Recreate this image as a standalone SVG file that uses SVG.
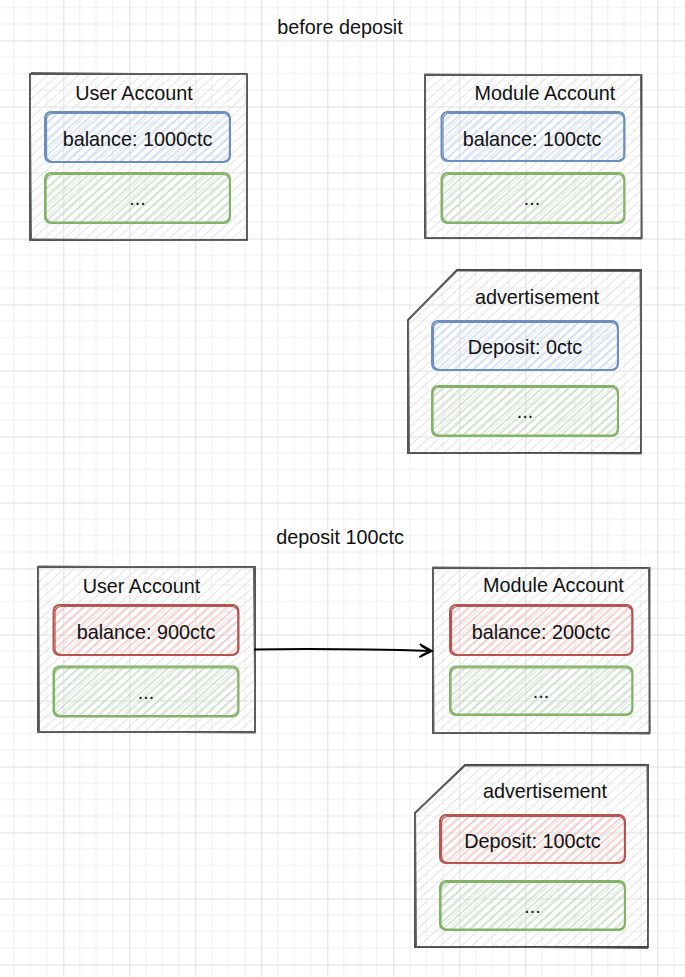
<svg xmlns="http://www.w3.org/2000/svg" width="685" height="977" viewBox="0 0 685 977">
<style>
text{font-family:"Liberation Sans",Arial,Helvetica,sans-serif;font-size:19.8px;fill:#111;text-anchor:middle}
.outer{stroke:#444;stroke-width:1.8;fill:url(#hGray)}
.outer2{stroke:#666;stroke-width:1.1;fill:none}
.blue{stroke:#6c8ebf;stroke-width:2;fill:url(#hBlue)}
.blue2{stroke:#6c8ebf;stroke-width:1.2;fill:none}
.green{stroke:#82b366;stroke-width:2;fill:url(#hGreen)}
.green2{stroke:#82b366;stroke-width:1.2;fill:none}
.red{stroke:#b85450;stroke-width:2;fill:url(#hRed)}
.red2{stroke:#b85450;stroke-width:1.2;fill:none}
.conn{stroke:#000;stroke-width:2;fill:none}
</style>
<defs>
<pattern id="grid" width="66" height="66" patternUnits="userSpaceOnUse" x="-2.7" y="40.5">
<path d="M16.5 0V66M33 0V66M49.5 0V66M0 16.5H66M0 33H66M0 49.5H66" stroke="#efefef" stroke-width="1" fill="none"/>
<path d="M0.5 0V66M0 0.5H66" stroke="#dedede" stroke-width="1" fill="none"/>
</pattern>
<pattern id="hGray" width="7" height="7" patternUnits="userSpaceOnUse" patternTransform="rotate(-42)">
<line x1="0" y1="3.5" x2="7" y2="3.5" stroke="#e4e4e4" stroke-width="1"/>
</pattern>
<pattern id="hBlue" width="6" height="6" patternUnits="userSpaceOnUse" patternTransform="rotate(-42)">
<line x1="0" y1="3" x2="6" y2="3" stroke="#c6d9f4" stroke-width="1.3"/>
</pattern>
<pattern id="hGreen" width="6" height="6" patternUnits="userSpaceOnUse" patternTransform="rotate(-42)">
<line x1="0" y1="3" x2="6" y2="3" stroke="#c3dcc1" stroke-width="1.3"/>
</pattern>
<pattern id="hRed" width="6" height="6" patternUnits="userSpaceOnUse" patternTransform="rotate(-42)">
<line x1="0" y1="3" x2="6" y2="3" stroke="#f3bdba" stroke-width="1.3"/>
</pattern>
<marker id="arrow" markerUnits="userSpaceOnUse" markerWidth="18" markerHeight="18" refX="14" refY="8" orient="auto">
<path d="M1.5,1.5 L14,8 L1.5,14.5 M3,3 L12,8 L3,13" fill="none" stroke="#000" stroke-width="1.8"/>
</marker>
</defs>
<rect x="0" y="0" width="685" height="977" fill="#fff"/>
<rect x="0" y="0" width="685" height="977" fill="url(#grid)"/>

<g id="title-before"><text x="340" y="34">before deposit</text></g>
<g id="title-deposit"><text x="340" y="544">deposit 100ctc</text></g>

<g id="user-account-1">
<rect class="outer" x="30" y="74" width="217" height="166"/>
<path class="outer2" d="M31 72.5L248 74.5M246.5 73L247.5 239M248 240.5L30.5 239M31.5 241L30 73.5"/>
<text x="134" y="99.5">User Account</text>
<g id="balance-1">
<rect class="blue" x="45" y="112" width="185" height="50" rx="6"/>
<rect class="blue2" x="46.5" y="113.5" width="183" height="48" rx="6"/>
<text x="137.5" y="145.5">balance: 1000ctc</text>
</g>
<g id="misc-1">
<rect class="green" x="45" y="173" width="185" height="50" rx="6"/>
<rect class="green2" x="46" y="174.5" width="183.5" height="47.5" rx="6"/>
<text x="137.5" y="205">...</text>
</g>
</g>

<g id="module-account-1">
<rect class="outer" x="425" y="75" width="216.5" height="163"/>
<path class="outer2" d="M424.5 74L642 75.5M640.5 74L642 238.5M642 239L424.5 237.5M426 239L425 74.5"/>
<text x="545" y="99.5">Module Account</text>
<g id="balance-2">
<rect class="blue" x="441.5" y="112" width="183" height="49" rx="6"/>
<rect class="blue2" x="443" y="113.5" width="181" height="47" rx="6"/>
<text x="532" y="145.5">balance: 100ctc</text>
</g>
<g id="misc-2">
<rect class="green" x="441.5" y="173" width="183" height="50" rx="6"/>
<rect class="green2" x="442.5" y="174.5" width="181.5" height="47.5" rx="6"/>
<text x="532" y="205">...</text>
</g>
</g>

<g id="advertisement-1">
<path class="outer" d="M408 320L457 270L641 270L641 453L408 453Z"/>
<path class="outer2" d="M409.5 318.5L456 272M456.5 271L640 271.5M640 269.5L641.5 452M641 454L409 452.5M409.5 454L408.5 321"/>
<text x="537" y="304">advertisement</text>
<g id="deposit-1">
<rect class="blue" x="432" y="321" width="186" height="49" rx="6"/>
<rect class="blue2" x="433.5" y="322.5" width="184" height="47" rx="6"/>
<text x="525" y="354">Deposit: 0ctc</text>
</g>
<g id="misc-3">
<rect class="green" x="432" y="386" width="186" height="50" rx="6"/>
<rect class="green2" x="433" y="387.5" width="184.5" height="47.5" rx="6"/>
<text x="525" y="418">...</text>
</g>
</g>

<g id="user-account-2">
<rect class="outer" x="38" y="567" width="217" height="165"/>
<path class="outer2" d="M38.5 566L255.5 567.5M253.5 566.5L255 732M255.5 733L38 731.5M39.5 733L38.5 567.5"/>
<text x="141.5" y="593">User Account</text>
<g id="balance-3">
<rect class="red" x="53.5" y="605" width="185" height="50" rx="6"/>
<rect class="red2" x="55" y="606.5" width="183" height="48" rx="6"/>
<text x="146" y="638.5">balance: 900ctc</text>
</g>
<g id="misc-4">
<rect class="green" x="53.5" y="666.5" width="185" height="50" rx="6"/>
<rect class="green2" x="54.5" y="668" width="183.5" height="47.5" rx="6"/>
<text x="146" y="698.5">...</text>
</g>
</g>

<g id="module-account-2">
<rect class="outer" x="433" y="568" width="216.5" height="165"/>
<path class="outer2" d="M432.5 567L650 568.5M648.5 567L650 733M650 734L432.5 732.5M434 734L433 568.5"/>
<text x="553.5" y="592">Module Account</text>
<g id="balance-4">
<rect class="red" x="450" y="605" width="182.5" height="50" rx="6"/>
<rect class="red2" x="451.5" y="606.5" width="180.5" height="48" rx="6"/>
<text x="541" y="638.5">balance: 200ctc</text>
</g>
<g id="misc-5">
<rect class="green" x="450" y="666.5" width="182.5" height="48.5" rx="6"/>
<rect class="green2" x="451" y="668" width="181" height="46" rx="6"/>
<text x="541" y="698">...</text>
</g>
</g>

<g id="advertisement-2">
<path class="outer" d="M415 813L465 765L648 765L648 947L415 947Z"/>
<path class="outer2" d="M416.5 811.5L464 767M464.5 766L647 765.5M647 764L648.5 946M648 948.5L416 946.5M416.5 948L415.5 814"/>
<text x="545" y="798">advertisement</text>
<g id="deposit-2">
<rect class="red" x="440" y="815" width="185" height="48" rx="6"/>
<rect class="red2" x="441.5" y="816.5" width="183" height="46" rx="6"/>
<text x="532.5" y="847.5">Deposit: 100ctc</text>
</g>
<g id="misc-6">
<rect class="green" x="440" y="881" width="185" height="49" rx="6"/>
<rect class="green2" x="441" y="882.5" width="183.5" height="46.5" rx="6"/>
<text x="532.5" y="913">...</text>
</g>
</g>

<g id="connectors">
<path class="conn" d="M254 649.5C320 648.5 380 649.5 432 651" marker-end="url(#arrow)"/>
</g>
</svg>
